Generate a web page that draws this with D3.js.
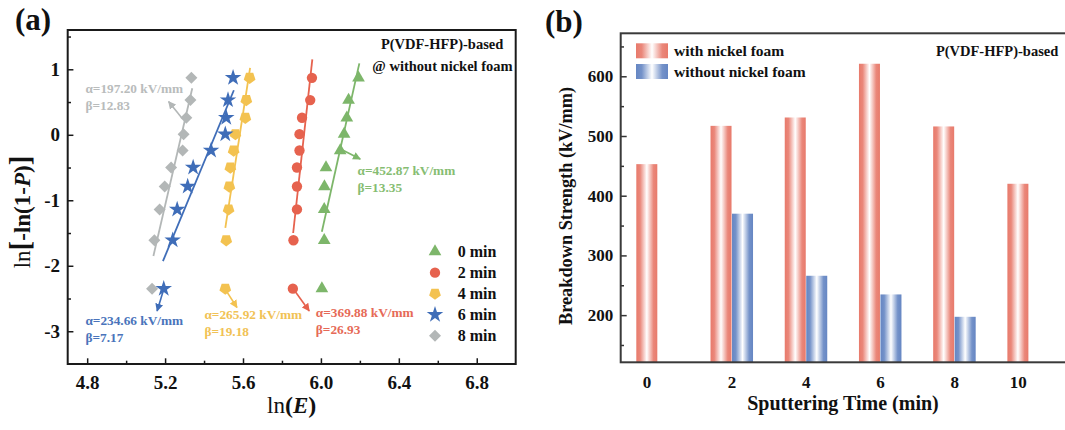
<!DOCTYPE html>
<html>
<head>
<meta charset="utf-8">
<script src="https://cdn.jsdelivr.net/npm/d3@7"></script>
<style>
  body { margin: 0; background: #fff; }
  svg { display: block; font-family: "Liberation Serif", "Times New Roman", serif; }
</style>
</head>
<body>
<svg id="chart" width="1065" height="430"></svg>
<script>
// ---- panel (a): Weibull plot data ----
const plotPos = [-2.35, -1.61, -1.14, -0.79, -0.50, -0.24, 0.01, 0.26, 0.53, 0.87];
const lnE0 = [6.005, 6.017, 6.017, 6.018, 6.026, 6.099, 6.119, 6.133, 6.142, 6.193];
const lnE2 = [5.856, 5.859, 5.877, 5.877, 5.877, 5.890, 5.890, 5.903, 5.945, 5.954];
const lnE4 = [5.509, 5.514, 5.526, 5.530, 5.535, 5.552, 5.561, 5.612, 5.617, 5.634];
const lnE6 = [5.193, 5.239, 5.262, 5.316, 5.344, 5.436, 5.509, 5.514, 5.523, 5.549];
const lnE8 = [5.133, 5.145, 5.172, 5.198, 5.231, 5.290, 5.295, 5.309, 5.330, 5.335];
const seriesNames = ["0 min", "2 min", "4 min", "6 min", "8 min"];
const alphas = [452.87, 369.88, 265.92, 234.66, 197.20];
const betas = [13.35, 26.93, 19.18, 7.17, 12.83];
const fitRange = [[-1.48, 1.09], [-1.50, 1.15], [-1.42, 1.02], [-1.93, 0.68], [-1.85, 0.71]];
const xTicksA = [4.8, 5.2, 5.6, 6.0, 6.4, 6.8];
const yTicksA = [-3, -2, -1, 0, 1];

// annotation arrows (data units): [x0, y0, x1, y1] and label anchor [x, y]
const arrowsA = [[6.108, -0.228, 6.202, -0.37], [5.856, -2.344, 5.940, -2.69], [5.509, -2.36, 5.569, -2.638],
                 [5.193, -2.36, 5.159, -2.69], [5.287, 0.254, 5.218, 0.507]];
const labelPosA = [[6.188, -0.619], [5.974, -2.781], [5.402, -2.816], [4.791, -2.902], [4.791, 0.635]];

// ---- panel (b): breakdown strength ----
const times = ["0", "2", "4", "6", "8", "10"];
const withFoam = [452.87, 517, 531, 621, 516, 420];
const withoutFoam = [null, 369.88, 265.92, 234.66, 197.20, null];
const barSeries = ["with nickel foam", "without nickel foam"];
const yTicksB = [200, 300, 400, 500, 600];

const colors = ["#7db66a", "#e6624e", "#f3c250", "#3f6db8", "#b3b7b7"];
const textColors = ["#86bd72", "#e66a57", "#f1c255", "#4a74bb", "#b9bcbc"];
const barColors = ["#e87a6b", "#6586c3"];

const svg = d3.select("#chart");
const defs = svg.append("defs");

// pentagon symbol, flat top
const symbolPentagon = {
    draw(ctx, size) {
        const r = Math.sqrt(size / 2.3776);
        for (let i = 0; i < 5; i++) {
            const a = Math.PI / 2 + i * 2 * Math.PI / 5;
            const px = r * Math.cos(a), py = r * Math.sin(a);
            if (i === 0) ctx.moveTo(px, py); else ctx.lineTo(px, py);
        }
        ctx.closePath();
    }
};
const symbols = [
    { type: d3.symbolTriangle, size: 70, rot: 0 },
    { type: d3.symbolCircle, size: 84, rot: 0 },
    { type: symbolPentagon, size: 90, rot: 0 },
    { type: d3.symbolStar, size: 85, rot: 0 },
    { type: d3.symbolSquare, size: 72, rot: 45 }
];

// ================= panel (a) =================
const xA = d3.scaleLinear().domain([4.7, 7.0]).range([67.7, 515.7]);
const yA = d3.scaleLinear().domain([-3.5, 1.6]).range([364, 30]);
const gA = svg.append("g");

// fit lines from alpha / beta: ln(-ln(1-P)) = beta * (lnE - ln alpha)
alphas.forEach((a, i) => {
    const lnA = Math.log(a);
    const pts = fitRange[i].map(yv => [lnA + yv / betas[i], yv]);
    gA.append("path")
        .attr("d", d3.line().x(d => xA(d[0])).y(d => yA(d[1]))(pts))
        .attr("stroke", colors[i])
        .attr("stroke-width", 1.8)
        .attr("fill", "none");
});

// markers
const allSeries = [lnE0, lnE2, lnE4, lnE6, lnE8];
allSeries.forEach((xs, i) => {
    const sym = d3.symbol().type(symbols[i].type).size(symbols[i].size);
    gA.selectAll(null)
        .data(xs.map((x, k) => [x, plotPos[k]]))
        .join("path")
        .attr("d", sym)
        .attr("transform", d => `translate(${xA(d[0])},${yA(d[1])}) rotate(${symbols[i].rot})`)
        .attr("fill", colors[i]);
});

// arrows + labels
colors.forEach((c, i) => {
    defs.append("marker")
        .attr("id", "arr" + i)
        .attr("viewBox", "0 0 10 10")
        .attr("refX", 9).attr("refY", 5)
        .attr("markerWidth", 5).attr("markerHeight", 5)
        .attr("orient", "auto")
        .append("path")
        .attr("d", "M0,0 L10,5 L0,10 Z")
        .attr("fill", c);
});
arrowsA.forEach((a, i) => {
    gA.append("line")
        .attr("x1", xA(a[0])).attr("y1", yA(a[1]))
        .attr("x2", xA(a[2])).attr("y2", yA(a[3]))
        .attr("stroke", colors[i])
        .attr("stroke-width", 1.6)
        .attr("marker-end", `url(#arr${i})`);
    const t = gA.append("text")
        .attr("x", xA(labelPosA[i][0]))
        .attr("y", yA(labelPosA[i][1]))
        .attr("fill", textColors[i])
        .attr("font-size", 13.3)
        .attr("font-weight", "bold");
    t.append("tspan").text(`α=${alphas[i].toFixed(2)} kV/mm`);
    t.append("tspan")
        .attr("x", xA(labelPosA[i][0]))
        .attr("dy", 17)
        .text(`β=${betas[i].toFixed(2)}`);
});

// axes
const xAxisA = gA.append("g")
    .attr("transform", "translate(0,364)")
    .call(d3.axisBottom(xA).tickValues(xTicksA).tickFormat(d3.format(".1f")).tickSizeInner(-5.7).tickSizeOuter(0).tickPadding(11.5));
gA.append("g")
    .attr("transform", "translate(0,364)")
    .call(d3.axisBottom(xA).tickValues([5.0, 5.4, 5.8, 6.2, 6.6]).tickFormat("").tickSizeInner(-3.3).tickSizeOuter(0));
const yAxisA = gA.append("g")
    .attr("transform", "translate(67.7,0)")
    .call(d3.axisLeft(yA).tickValues(yTicksA).tickFormat(d3.format("d")).tickSizeInner(-5.7).tickSizeOuter(0).tickPadding(7.7));
gA.append("g")
    .attr("transform", "translate(67.7,0)")
    .call(d3.axisLeft(yA).tickValues([-2.5, -1.5, -0.5, 0.5, 1.5]).tickFormat("").tickSizeInner(-3.3).tickSizeOuter(0));
gA.selectAll(".domain").remove();
gA.selectAll(".tick line").attr("stroke", "#1a1a1a").attr("stroke-width", 1.5);
[xAxisA, yAxisA].forEach(ax => ax.selectAll("text")
    .attr("font-family", "Liberation Serif, Times New Roman, serif")
    .attr("font-size", 19).attr("font-weight", "bold").attr("fill", "#111"));
yAxisA.selectAll("text").text(d => d < 0 ? "-" + Math.abs(d) : d);

gA.append("rect")
    .attr("x", xA.range()[0]).attr("y", yA.range()[1])
    .attr("width", xA.range()[1] - xA.range()[0])
    .attr("height", yA.range()[0] - yA.range()[1])
    .attr("fill", "none").attr("stroke", "#1a1a1a").attr("stroke-width", 2);

// legend (a)
seriesNames.forEach((name, i) => {
    const ly = 251.7 + i * 21;
    gA.append("path")
        .attr("d", d3.symbol().type(symbols[i].type).size(symbols[i].size)())
        .attr("transform", `translate(435,${ly}) rotate(${symbols[i].rot})`)
        .attr("fill", colors[i]);
    gA.append("text")
        .attr("x", 457.7).attr("y", ly + 5.6)
        .attr("font-size", 16).attr("font-weight", "bold").attr("fill", "#111")
        .text(name);
});

gA.append("text").attr("x", 503.3).attr("y", 49.3).attr("text-anchor", "end")
    .attr("font-size", 14.5).attr("font-weight", "bold").attr("fill", "#111")
    .text("P(VDF-HFP)-based");
gA.append("text").attr("x", 512.7).attr("y", 70.7).attr("text-anchor", "end")
    .attr("font-size", 14.5).attr("font-weight", "bold").attr("fill", "#111")
    .text("@ without nickel foam");

// axis titles (a)
const xtA = gA.append("text").attr("x", 291.7).attr("y", 413).attr("text-anchor", "middle")
    .attr("font-size", 23).attr("fill", "#111");
xtA.append("tspan").text("ln");
xtA.append("tspan").attr("font-weight", "bold").attr("font-size", 24).text("(");
xtA.append("tspan").attr("font-weight", "bold").attr("font-style", "italic").text("E");
xtA.append("tspan").attr("font-weight", "bold").attr("font-size", 24).text(")");

const ytA = gA.append("text").attr("transform", "translate(30,212) rotate(-90)").attr("text-anchor", "middle")
    .attr("font-size", 23).attr("fill", "#111");
ytA.append("tspan").text("ln");
ytA.append("tspan").attr("font-weight", "bold").attr("font-size", 29).text("[");
ytA.append("tspan").attr("font-weight", "bold").text("-ln(1-");
ytA.append("tspan").attr("font-weight", "bold").attr("font-style", "italic").text("P");
ytA.append("tspan").attr("font-weight", "bold").text(")");
ytA.append("tspan").attr("font-weight", "bold").attr("font-size", 29).text("]");

svg.append("text").attr("x", 15).attr("y", 30).attr("font-size", 31).attr("font-weight", "bold")
    .attr("fill", "#111").text("(a)");

// ================= panel (b) =================
const xB = d3.scaleBand().domain(times).range([620.7, 1066]).padding(0);
const groupW = 43;
const xSub = d3.scaleBand().domain(barSeries).range([0, groupW]);
const yB = d3.scaleLinear().domain([121, 672]).range([362.3, 33.3]);
const gB = svg.append("g");

barColors.forEach((c, i) => {
    const grad = defs.append("linearGradient").attr("id", "barGrad" + i)
        .attr("x1", "0%").attr("x2", "100%").attr("y1", "0%").attr("y2", "0%");
    [[0, 1], [0.18, 0.9], [0.5, 0], [0.82, 0.9], [1, 1]].forEach(([o, a]) => {
        grad.append("stop").attr("offset", o).attr("stop-color", d3.interpolateRgb("#ffffff", c)(a));
    });
});

const barData = [];
times.forEach((t, k) => {
    [withFoam[k], withoutFoam[k]].forEach((v, s) => {
        if (v !== null) barData.push({ t, s, v });
    });
});
gB.selectAll("rect.bar")
    .data(barData)
    .join("rect")
    .attr("class", "bar")
    .attr("x", d => xB(d.t) + (xB.bandwidth() - groupW) / 2 + xSub(barSeries[d.s]))
    .attr("y", d => yB(d.v))
    .attr("width", xSub.bandwidth() - 0.5)
    .attr("height", d => yB.range()[0] - yB(d.v))
    .attr("fill", d => `url(#barGrad${d.s})`);

// category labels: centred on the bars that exist
times.forEach((t, k) => {
    const x0 = xB(t) + (xB.bandwidth() - groupW) / 2;
    const cx = withoutFoam[k] === null ? x0 + xSub.bandwidth() / 2 : x0 + groupW / 2;
    gB.append("text").attr("x", cx).attr("y", 387.7).attr("text-anchor", "middle")
        .attr("font-size", 17).attr("font-weight", "bold").attr("fill", "#111").text(t);
});

const yAxisB = gB.append("g")
    .attr("transform", "translate(620.7,0)")
    .call(d3.axisLeft(yB).tickValues(yTicksB).tickSizeInner(-6).tickSizeOuter(0).tickPadding(7.4));
gB.append("g")
    .attr("transform", "translate(620.7,0)")
    .call(d3.axisLeft(yB).tickValues([150, 250, 350, 450, 550, 650]).tickFormat("").tickSizeInner(-3.3).tickSizeOuter(0));
gB.selectAll(".domain").remove();
gB.selectAll(".tick line").attr("stroke", "#333").attr("stroke-width", 1.5);
yAxisB.selectAll("text")
    .attr("font-family", "Liberation Serif, Times New Roman, serif")
    .attr("font-size", 17).attr("font-weight", "bold").attr("fill", "#111");

gB.append("rect")
    .attr("x", 620.7).attr("y", 33.3)
    .attr("width", 446).attr("height", 329)
    .attr("fill", "none").attr("stroke", "#3a3a3a").attr("stroke-width", 2);

// legend (b)
barSeries.forEach((name, i) => {
    const ly = 43.3 + i * 20.7;
    gB.append("rect").attr("x", 636).attr("y", ly).attr("width", 32).attr("height", 15)
        .attr("fill", `url(#barGrad${i})`);
    gB.append("text").attr("x", 674).attr("y", ly + 12.7)
        .attr("font-size", 15.5).attr("font-weight", "bold").attr("fill", "#111").text(name);
});
gB.append("text").attr("x", 1058.3).attr("y", 56).attr("text-anchor", "end")
    .attr("font-size", 14.5).attr("font-weight", "bold").attr("fill", "#111")
    .text("P(VDF-HFP)-based");

gB.append("text").attr("x", 843).attr("y", 410).attr("text-anchor", "middle")
    .attr("font-size", 20).attr("font-weight", "bold").attr("fill", "#111")
    .text("Sputtering Time (min)");
gB.append("text").attr("transform", "translate(572,206) rotate(-90)").attr("text-anchor", "middle")
    .attr("font-size", 18.3).attr("font-weight", "bold").attr("fill", "#111")
    .text("Breakdown Strength (kV/mm)");

svg.append("text").attr("x", 545).attr("y", 31.7).attr("font-size", 31).attr("font-weight", "bold")
    .attr("fill", "#111").text("(b)");
</script>
</body>
</html>
